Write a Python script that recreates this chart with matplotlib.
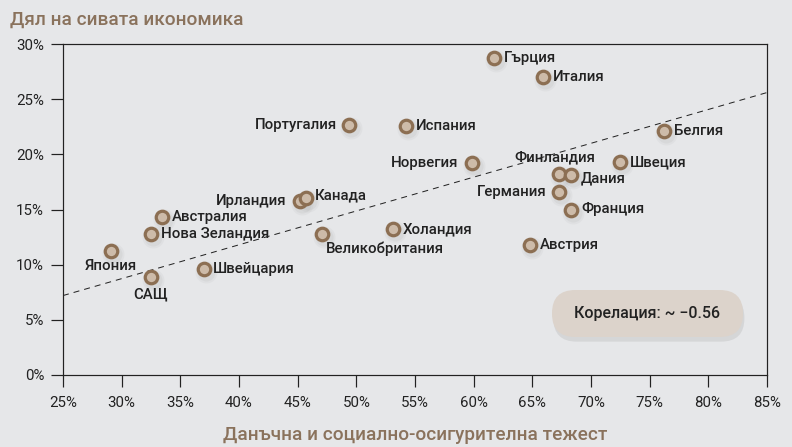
import matplotlib
matplotlib.use("Agg")
import matplotlib.pyplot as plt
import matplotlib.transforms as mtransforms
from matplotlib.patches import FancyBboxPatch
from matplotlib.ticker import FuncFormatter, MultipleLocator

plt.rcParams["font.family"] = ["Roboto", "DejaVu Sans"]

# country, tax burden (%), shadow economy (%)
countries = ["Гърция", "Италия", "Португалия", "Испания", "Белгия", "Норвегия",
             "Швеция", "Финландия", "Дания", "Германия", "Франция", "Австрия",
             "Холандия", "Великобритания", "Ирландия", "Канада", "Австралия",
             "Нова Зеландия", "Япония", "САЩ", "Швейцария"]
tax_burden = [61.7, 65.9, 49.4, 54.2, 76.2, 59.9,
              72.5, 67.3, 68.3, 67.3, 68.3, 64.8,
              53.1, 47.1, 45.2, 45.7, 33.4,
              32.5, 29.1, 32.5, 37.0]
shadow_share = [28.7, 27.0, 22.7, 22.6, 22.1, 19.2,
                19.3, 18.2, 18.1, 16.6, 15.0, 11.8,
                13.2, 12.8, 15.8, 16.0, 14.3,
                12.8, 11.2, 8.9, 9.6]
# label placement: (dx, dy) in pixels and horizontal alignment
label_pos = {
    "Гърция": (10, 0, "left"), "Италия": (10, 0, "left"),
    "Португалия": (-12, 0, "right"), "Испания": (10, 0, "left"),
    "Белгия": (10, 0, "left"), "Норвегия": (-14, 0, "right"),
    "Швеция": (10, 0, "left"), "Финландия": (-5, 17, "center"),
    "Дания": (10, -3, "left"), "Германия": (-13, 0, "right"),
    "Франция": (10, 0, "left"), "Австрия": (10, 0, "left"),
    "Холандия": (10, 0, "left"), "Великобритания": (4, -15, "left"),
    "Ирландия": (-14, 0, "right"), "Канада": (9, 3, "left"),
    "Австралия": (10, 0, "left"), "Нова Зеландия": (10, 0, "left"),
    "Япония": (0, -15, "center"), "САЩ": (0, -18, "center"),
    "Швейцария": (9, 0, "left"),
}

trend_x = [25, 85]
trend_y = [7.2, 25.6]
correlation_text = "Корелация: ~ \u22120.56"

BG = "#e6e7e9"
EDGE = "#8c6f53"
FACE = "#cdbba9"
BROWN = "#8a725c"
DARK = "#222222"

fig = plt.figure(figsize=(11, 447 / 72), dpi=72, facecolor=BG)
ax = fig.add_axes([63 / 792, 72 / 447, 704 / 792, 331 / 447], facecolor=BG)

ax.plot(trend_x, trend_y, color="#222222", linestyle=(0, (6, 5)), linewidth=1.0, zorder=2)

# soft shadows under the markers
for dx, dy, a, s in [(2, -3, 0.06, 22), (2, -3, 0.08, 18)]:
    shadow = mtransforms.offset_copy(ax.transData, fig=fig, x=dx, y=dy, units="dots")
    ax.plot(tax_burden, shadow_share, "o", ms=s, color="#7a7a7a", alpha=a,
            mec="none", transform=shadow, zorder=3)

ax.plot(tax_burden, shadow_share, "o", ms=12.5, mfc=FACE, mec=EDGE, mew=3.2,
        linestyle="none", zorder=4)

for name, x, y in zip(countries, tax_burden, shadow_share):
    dx, dy, ha = label_pos[name]
    ax.annotate(name, (x, y), xytext=(dx, dy), textcoords="offset pixels",
                ha=ha, va="center", fontsize=15, fontweight="medium",
                color=DARK, zorder=5)

ax.set_xlim(25, 85)
ax.set_ylim(0, 30)
ax.xaxis.set_major_locator(MultipleLocator(5))
ax.yaxis.set_major_locator(MultipleLocator(5))
pct = FuncFormatter(lambda v, _: f"{v:.0f}%")
ax.xaxis.set_major_formatter(pct)
ax.yaxis.set_major_formatter(pct)
ax.tick_params(axis="both", direction="out", length=12, width=1.2, color=DARK,
               labelcolor=DARK, labelsize=15, pad=7)
ax.tick_params(axis="x", pad=9)
for sp in ax.spines.values():
    sp.set_color(DARK)
    sp.set_linewidth(1.2)

# correlation box with shadow
aspect = 704 / 331
box_shadow = FancyBboxPatch((0.6946 + 0.002, 0.1148 - 0.014), 0.2713, 0.142,
                            boxstyle="round,pad=0,rounding_size=0.033",
                            mutation_aspect=aspect, transform=ax.transAxes,
                            facecolor="#9a9a9a", edgecolor="none", alpha=0.22,
                            zorder=5)
ax.add_patch(box_shadow)
box = FancyBboxPatch((0.6946, 0.1148), 0.2713, 0.142,
                     boxstyle="round,pad=0,rounding_size=0.033",
                     mutation_aspect=aspect, transform=ax.transAxes,
                     facecolor="#dcd3cb", edgecolor="none", zorder=6)
ax.add_patch(box)
ax.text(0.6946 + 0.2713 / 2, 0.1148 + 0.071, correlation_text, transform=ax.transAxes,
        ha="center", va="center", fontsize=16, fontweight="medium", color=DARK, zorder=7)

fig.text(10 / 792, 1 - 20 / 447, "Дял на сивата икономика", ha="left", va="center",
         fontsize=19, fontweight="medium", color=BROWN)
fig.text(415 / 792, 1 - 435 / 447, "Данъчна и социално-осигурителна тежест",
         ha="center", va="center", fontsize=19, fontweight="medium", color=BROWN)

fig.savefig("out.png", dpi=72, facecolor=BG)
